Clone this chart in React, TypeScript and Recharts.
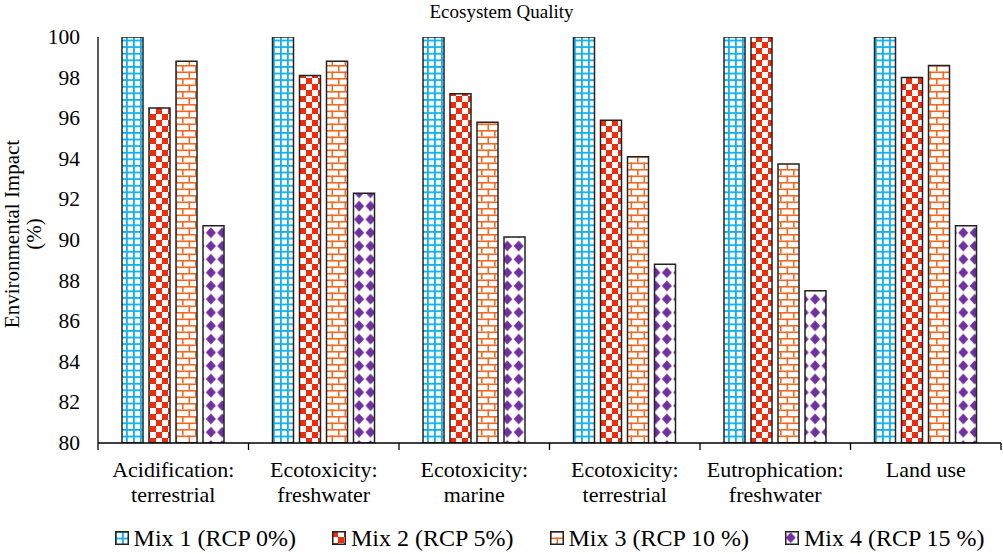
import React from 'react'
import { BarChart, Bar, XAxis, YAxis } from 'recharts';

const categories = [
  'Acidification: terrestrial',
  'Ecotoxicity: freshwater',
  'Ecotoxicity: marine',
  'Ecotoxicity: terrestrial',
  'Eutrophication: freshwater',
  'Land use',
];

const mix1 = [100, 100, 100, 100, 100, 100];
const mix2 = [96.5, 98.1, 97.2, 95.9, 100, 98.0];
const mix3 = [98.8, 98.8, 95.8, 94.1, 93.75, 98.6];
const mix4 = [90.7, 92.3, 90.15, 88.8, 87.5, 90.7];

const yTicks = [80, 82, 84, 86, 88, 90, 92, 94, 96, 98, 100];

const seriesNames = ['Mix 1 (RCP 0%)', 'Mix 2 (RCP 5%)', 'Mix 3 (RCP 10 %)', 'Mix 4 (RCP 15 %)'];

const data = categories.map((c, i) => ({
  name: c,
  mix1: mix1[i],
  mix2: mix2[i],
  mix3: mix3[i],
  mix4: mix4[i],
}));

const FONT = '"Liberation Serif", "Times New Roman", serif';
const BLUE = '#12B0EC';
const RED = '#EE2C0C';
const ORANGE = '#F26A21';
const PURPLE = '#7030A0';

const W = 1003;
const H = 554;
const M = { top: 37, right: 2, bottom: 41, left: 38 };
const Y_W = 60;
const X_H = 70;
const halfBand = (W - M.left - Y_W - M.right) / categories.length / 2;

const Patterns = () => (
  <svg width={0} height={0} style={{ position: 'absolute' }}>
    <defs>
      <pattern id='p1' patternUnits='userSpaceOnUse' width={7} height={6.6}>
        <rect width={7} height={6.6} fill='#fff' />
        <rect x={0} y={0} width={1.8} height={6.6} fill={BLUE} />
        <rect x={0} y={0} width={7} height={1.8} fill={BLUE} />
      </pattern>
      <pattern id='p2' patternUnits='userSpaceOnUse' width={12} height={12}>
        <rect width={12} height={12} fill='#fff' />
        <rect x={0} y={0} width={6} height={6} fill={RED} />
        <rect x={6} y={6} width={6} height={6} fill={RED} />
      </pattern>
      <pattern id='p3' patternUnits='userSpaceOnUse' width={13} height={13}>
        <rect width={13} height={13} fill='#fff' />
        <rect x={0} y={0} width={13} height={1.6} fill={ORANGE} />
        <rect x={0} y={6.5} width={13} height={1.6} fill={ORANGE} />
        <rect x={0} y={0} width={1.6} height={6.5} fill={ORANGE} />
        <rect x={6.5} y={6.5} width={1.6} height={6.5} fill={ORANGE} />
      </pattern>
      <pattern id='p4' patternUnits='userSpaceOnUse' width={11.4} height={13.3}>
        <rect width={11.4} height={13.3} fill='#fff' />
        <polygon points='5.7,1.2 10.7,6.65 5.7,12.1 0.7,6.65' fill={PURPLE} />
      </pattern>
    </defs>
  </svg>
);

const CategoryTick = (props: any) => {
  const { x, y, payload, index } = props;
  const parts = String(payload.value).split(': ');
  const lines = parts.length > 1 ? [parts[0] + ':', parts[1]] : parts;
  const axisY = y - 8;
  return (
    <g>
      <line x1={x - halfBand} x2={x - halfBand} y1={axisY} y2={axisY + 7} stroke='#000' strokeWidth={1.3} />
      {index === categories.length - 1 && (
        <line x1={x + halfBand} x2={x + halfBand} y1={axisY} y2={axisY + 7} stroke='#000' strokeWidth={1.3} />
      )}
      {lines.map((l, i) => (
        <text key={i} x={x} y={y + 26 + i * 25} textAnchor='middle' style={{ fontFamily: FONT, fontSize: 22 }} fill='#000'>
          {l}
        </text>
      ))}
    </g>
  );
};

const ValueTick = (props: any) => {
  const { x, y, payload } = props;
  return (
    <text x={x} y={y + 7} textAnchor='end' style={{ fontFamily: FONT, fontSize: 21.5 }} fill='#000'>
      {payload.value}
    </text>
  );
};

const YLabel = (props: any) => {
  const vb = props.viewBox || { x: M.left, y: M.top, width: Y_W, height: 406 };
  const cy = vb.y + vb.height / 2 - 6;
  return (
    <g style={{ fontFamily: FONT, fontSize: 21 }} fill='#000'>
      <text x={19} y={cy} textAnchor='middle' transform={`rotate(-90 19 ${cy})`}>Environmental Impact</text>
      <text x={41} y={cy} textAnchor='middle' transform={`rotate(-90 41 ${cy})`}>(%)</text>
    </g>
  );
};

const Legend = () => (
  <div
    style={{
      position: 'absolute',
      left: M.left + Y_W,
      top: 524,
      width: W - M.left - Y_W - M.right,
      display: 'flex',
      justifyContent: 'center',
      gap: 36,
      fontFamily: FONT,
      fontSize: 24,
      lineHeight: '28px',
    }}
  >
    {seriesNames.map((n, i) => (
      <div key={n} style={{ display: 'flex', alignItems: 'center', gap: 5 }}>
        <svg width={14} height={14}>
          <rect x={0.75} y={0.75} width={12.5} height={12.5} fill={`url(#p${i + 1})`} stroke='#222' strokeWidth={1.5} />
        </svg>
        <span>{n}</span>
      </div>
    ))}
  </div>
);

const App = () => {
  return (
    <div style={{ position: 'absolute', left: 0, top: 0, width: W, height: H, background: '#fff' }}>
      <Patterns />
      <div
        style={{
          position: 'absolute',
          left: 0,
          top: 0,
          width: W,
          textAlign: 'center',
          fontFamily: FONT,
          fontSize: 19,
          lineHeight: '24px',
        }}
      >
        Ecosystem Quality
      </div>
      <BarChart
        width={W}
        height={H}
        data={data}
        margin={M}
        barSize={21}
        barGap={6}
      >
        <XAxis
          dataKey='name'
          xAxisId='bottom'
          height={X_H}
          interval={0}
          tickLine={false}
          axisLine={{ stroke: '#000', strokeWidth: 1.3 }}
          tick={<CategoryTick />}
        />
        <XAxis
          dataKey='name'
          xAxisId='top'
          orientation='top'
          height={0}
          tick={false}
          tickLine={false}
          axisLine={{ stroke: '#000', strokeWidth: 1.3 }}
        />
        <YAxis
          yAxisId='left'
          width={Y_W}
          domain={[80, 100]}
          ticks={yTicks}
          interval={0}
          allowDataOverflow
          tickLine={false}
          tickSize={6}
          tickMargin={12}
          axisLine={{ stroke: '#000', strokeWidth: 1.3 }}
          tick={<ValueTick />}
          label={<YLabel />}
        />
        <YAxis
          yAxisId='right'
          orientation='right'
          width={0}
          domain={[80, 100]}
          tick={false}
          tickLine={false}
          axisLine={{ stroke: '#000', strokeWidth: 1.3 }}
        />
        <Bar dataKey='mix1' name={seriesNames[0]} xAxisId='bottom' yAxisId='left' fill='url(#p1)' stroke='#222' strokeWidth={1.5} isAnimationActive={false} />
        <Bar dataKey='mix2' name={seriesNames[1]} xAxisId='bottom' yAxisId='left' fill='url(#p2)' stroke='#222' strokeWidth={1.5} isAnimationActive={false} />
        <Bar dataKey='mix3' name={seriesNames[2]} xAxisId='bottom' yAxisId='left' fill='url(#p3)' stroke='#222' strokeWidth={1.5} isAnimationActive={false} />
        <Bar dataKey='mix4' name={seriesNames[3]} xAxisId='bottom' yAxisId='left' fill='url(#p4)' stroke='#222' strokeWidth={1.5} isAnimationActive={false} />
      </BarChart>
      <Legend />
    </div>
  );
};

export default App
